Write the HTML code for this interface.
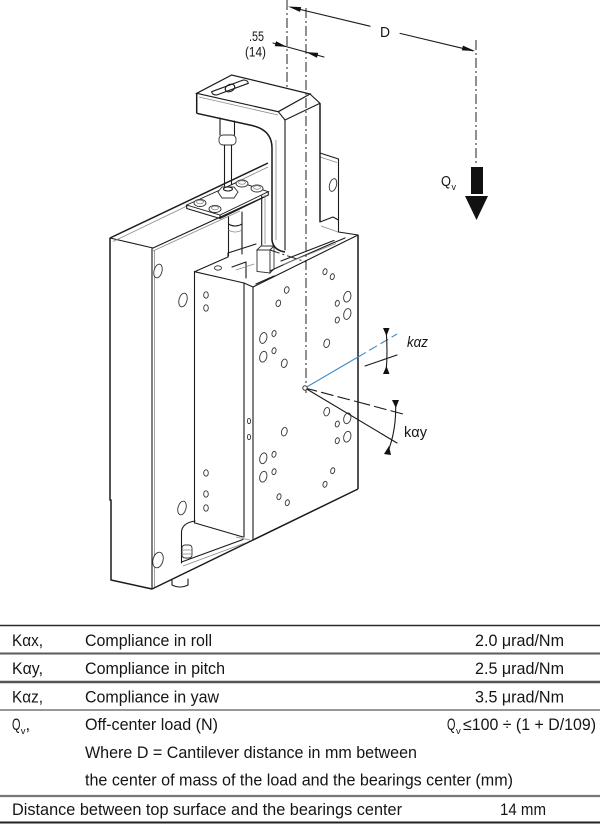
<!DOCTYPE html>
<html>
<head>
<meta charset="utf-8">
<style>
  html,body{margin:0;padding:0;background:#fff;}
  svg{display:block;}
  .l{stroke:#1a1a1a;stroke-width:1.1;fill:none;stroke-linejoin:round;stroke-linecap:round;}
  .t{stroke:#1a1a1a;stroke-width:1.5;fill:none;stroke-linejoin:round;}
  .g{stroke:#8a8a8a;stroke-width:0.8;fill:none;}
  .dd{stroke:#222;stroke-width:1;fill:none;stroke-dasharray:10 3 2 3;}
  .h{stroke:#333;stroke-width:0.9;fill:#fff;}
  .tx{font-family:"Liberation Sans",Arial,sans-serif;fill:#151515;}
</style>
</head>
<body>
<svg width="600" height="824" viewBox="0 0 600 824" xmlns="http://www.w3.org/2000/svg">

<!-- ===== dimension / centre lines ===== -->
<line class="dd" x1="287" y1="0" x2="287" y2="100"/>
<line class="dd" x1="476" y1="40" x2="476" y2="165"/>

<!-- D dimension -->
<line class="l" x1="292" y1="7.5" x2="370" y2="26.2"/>
<line class="l" x1="400" y1="33.4" x2="473" y2="50.8"/>
<polygon points="288,6.5 300,11.9 301.2,7.1" fill="#111"/>
<polygon points="475,51 461.8,50.4 463,45.6" fill="#111"/>
<text class="tx" x="380" y="37" font-size="15" textLength="10" lengthAdjust="spacingAndGlyphs">D</text>

<!-- .55 dimension -->
<line class="l" x1="273" y1="43" x2="324" y2="57"/>
<polygon points="287,46.9 274.7,46.1 276.1,41.3" fill="#111"/>
<polygon points="306,52.1 316.9,57.7 318.3,52.9" fill="#111"/>
<text class="tx" x="249" y="41" font-size="13.5" textLength="15" lengthAdjust="spacingAndGlyphs">.55</text>
<text class="tx" x="245" y="56.5" font-size="13.5" textLength="21" lengthAdjust="spacingAndGlyphs">(14)</text>

<!-- Qv load arrow -->
<rect x="471" y="167" width="12" height="27" fill="#111"/>
<polygon points="465,196 488,196 476.5,220" fill="#111"/>
<text class="tx" x="441" y="186" font-size="15" textLength="10" lengthAdjust="spacingAndGlyphs">Q</text>
<text class="tx" x="451.5" y="190" font-size="9">v</text>

<!-- ===== housing ===== -->
<polyline class="t" points="110,238 110,500 111,500 111,580 152,589"/>
<line class="l" x1="110" y1="238" x2="153" y2="248"/>
<line class="l" x1="152" y1="248" x2="152" y2="589"/>
<line class="g" x1="154.5" y1="250" x2="154.5" y2="587"/>
<line class="t" x1="110" y1="238" x2="268" y2="163"/>
<line class="g" x1="113" y1="241.5" x2="268" y2="167"/>
<line class="l" x1="153" y1="248" x2="265" y2="196.5"/>
<line class="g" x1="153" y1="251" x2="240" y2="211"/>
<polyline class="t" points="152,589 253,540 358,489"/>
<ellipse class="h" cx="158" cy="271" rx="4" ry="7" transform="rotate(15 158 271)"/>
<ellipse class="h" cx="183" cy="300" rx="4" ry="7" transform="rotate(15 183 300)"/>
<ellipse class="h" cx="182" cy="508" rx="4" ry="7" transform="rotate(15 182 508)"/>
<ellipse class="h" cx="158" cy="560" rx="5" ry="8" transform="rotate(15 158 560)"/>

<!-- bottom recess -->
<path class="l" d="M181.5,563 L181.5,532 Q182,523 195,521"/>
<line class="l" x1="181.5" y1="562" x2="243" y2="539.5"/>
<line class="g" x1="183" y1="566" x2="245" y2="543"/>
<line class="l" x1="195" y1="523" x2="243" y2="537"/>
<rect class="h" x="182" y="545" width="10" height="13" rx="3"/>
<line class="g" x1="182" y1="550" x2="192" y2="550"/>
<line class="g" x1="182" y1="554" x2="192" y2="554"/>
<path class="l" d="M172,580 L172,585 Q180,589 188,585 L188,579"/>
<line class="g" x1="236" y1="537" x2="250" y2="540"/>

<!-- mid-block -->
<line class="l" x1="194.5" y1="271.7" x2="194.5" y2="523"/>
<line class="l" x1="194.5" y1="271.7" x2="244" y2="283"/>
<line class="l" x1="244" y1="283" x2="244" y2="537"/>
<line class="l" x1="194.5" y1="271.7" x2="228" y2="257"/>
<polyline class="l" points="228,257 228,253 256,244"/>
<polyline class="l" points="232,267 246,262 246,278"/>
<line class="g" x1="236" y1="270" x2="254" y2="264"/>
<ellipse class="h" cx="218" cy="268" rx="3.5" ry="2.2"/>
<ellipse class="h" cx="206" cy="295" rx="2.3" ry="3.2"/>
<ellipse class="h" cx="206" cy="308" rx="2.3" ry="3.2"/>
<ellipse class="h" cx="206" cy="473" rx="2.3" ry="3.2"/>
<ellipse class="h" cx="206" cy="494" rx="2.3" ry="3.2"/>
<ellipse class="h" cx="206" cy="508" rx="2.3" ry="3.2"/>

<!-- narrow strip -->
<line class="l" x1="244" y1="283" x2="253" y2="287"/>
<line class="l" x1="253" y1="287" x2="253" y2="540"/>
<ellipse class="h" cx="249" cy="421" rx="1.6" ry="2.6"/>
<ellipse class="h" cx="249" cy="437" rx="1.6" ry="2.6"/>

<!-- carriage front face -->
<line class="l" x1="253" y1="287" x2="358" y2="235"/>
<line class="t" x1="358" y1="235" x2="358" y2="489"/>
<g class="h">
<ellipse cx="347.3" cy="296.7" rx="3.5" ry="5.5" transform="rotate(15 347.3 296.7)"/>
<ellipse cx="347.3" cy="314" rx="3.5" ry="5.5" transform="rotate(15 347.3 314)"/>
<ellipse cx="263.3" cy="338" rx="3.5" ry="5.5" transform="rotate(15 263.3 338)"/>
<ellipse cx="263.3" cy="356.7" rx="3.5" ry="5.5" transform="rotate(15 263.3 356.7)"/>
<ellipse cx="347.3" cy="418.3" rx="3.5" ry="5.5" transform="rotate(15 347.3 418.3)"/>
<ellipse cx="347.3" cy="436.7" rx="3.5" ry="5.5" transform="rotate(15 347.3 436.7)"/>
<ellipse cx="263.3" cy="458.3" rx="3.5" ry="5.5" transform="rotate(15 263.3 458.3)"/>
<ellipse cx="263.3" cy="476.7" rx="3.5" ry="5.5" transform="rotate(15 263.3 476.7)"/>
<ellipse cx="284.3" cy="363.3" rx="2.8" ry="4.3" transform="rotate(15 284.3 363.3)"/>
<ellipse cx="326.7" cy="343.3" rx="2.8" ry="4.3" transform="rotate(15 326.7 343.3)"/>
<ellipse cx="326.7" cy="411.7" rx="2.8" ry="4.3" transform="rotate(15 326.7 411.7)"/>
<ellipse cx="284.3" cy="431.7" rx="2.8" ry="4.3" transform="rotate(15 284.3 431.7)"/>
<ellipse cx="286.7" cy="290" rx="2.3" ry="3.3" transform="rotate(15 286.7 290)"/>
<ellipse cx="278.3" cy="303.3" rx="2.3" ry="3.3" transform="rotate(15 278.3 303.3)"/>
<ellipse cx="325" cy="271.7" rx="2" ry="3" transform="rotate(15 325 271.7)"/>
<ellipse cx="332.3" cy="276.7" rx="2" ry="3" transform="rotate(15 332.3 276.7)"/>
<ellipse cx="337.3" cy="303.3" rx="2" ry="3" transform="rotate(15 337.3 303.3)"/>
<ellipse cx="337.3" cy="320" rx="2" ry="3" transform="rotate(15 337.3 320)"/>
<ellipse cx="274" cy="333.5" rx="2" ry="3" transform="rotate(15 274 333.5)"/>
<ellipse cx="274" cy="350.7" rx="2" ry="3" transform="rotate(15 274 350.7)"/>
<ellipse cx="337.3" cy="424" rx="2" ry="3" transform="rotate(15 337.3 424)"/>
<ellipse cx="337.3" cy="440.7" rx="2" ry="3" transform="rotate(15 337.3 440.7)"/>
<ellipse cx="274" cy="454.3" rx="2" ry="3" transform="rotate(15 274 454.3)"/>
<ellipse cx="274" cy="471.7" rx="2" ry="3" transform="rotate(15 274 471.7)"/>
<ellipse cx="332.7" cy="470.7" rx="2" ry="3" transform="rotate(15 332.7 470.7)"/>
<ellipse cx="325" cy="484.3" rx="2" ry="3" transform="rotate(15 325 484.3)"/>
<ellipse cx="279" cy="496.7" rx="2" ry="3" transform="rotate(15 279 496.7)"/>
<ellipse cx="287.3" cy="502.7" rx="2" ry="3" transform="rotate(15 287.3 502.7)"/>
</g>

<!-- right back block -->
<line class="l" x1="320" y1="153" x2="338.5" y2="159"/>
<line class="g" x1="320" y1="157" x2="337" y2="162.5"/>
<line class="l" x1="338.5" y1="159" x2="338.5" y2="232"/>
<line class="l" x1="338.5" y1="232" x2="358" y2="235"/>
<ellipse class="h" cx="333" cy="185" rx="3.5" ry="6.5" transform="rotate(15 333 185)"/>
<polyline class="l" points="320,222 333,217 338.5,220"/>
<line class="g" x1="321" y1="226" x2="338" y2="232"/>

<!-- bracket base on carriage -->
<polygon class="h" points="257,250 270,250 270,273 257,271.5"/>
<polygon class="h" points="257,250 261,246 274,246 270,250"/>
<polygon class="h" points="270,250 274,246 274,269 270,273"/>
<polyline class="l" points="270,271 286,263.5 333,243 345,238"/>
<line class="l" x1="281" y1="261" x2="334" y2="240.5"/>
<line class="g" x1="283" y1="264.5" x2="336" y2="243.5"/>
<line class="l" x1="274" y1="276" x2="256" y2="284"/>
<line class="dd" x1="270" y1="250" x2="306" y2="262"/>

<!-- ===== bracket (cantilever) ===== -->
<polygon class="h" style="stroke:#1a1a1a;stroke-width:1.2" points="196.7,93.3 231.7,75 310,94 278.3,111.7"/>
<polyline class="l" points="278.3,111.7 285,120 320,103.3 310,94"/>
<line class="g" x1="199" y1="97" x2="278" y2="115"/>
<path class="l" d="M211.7,91.7 L243.3,80 Q248,80 248.3,83.3 L216.7,95 Q212,95 211.7,91.7 Z"/>
<ellipse class="l" cx="230" cy="88" rx="5" ry="3.5" transform="rotate(-25 230 88)"/>
<line class="t" x1="196.7" y1="93.3" x2="196.7" y2="113.3"/>
<path class="t" d="M196.7,113.3 L252,125.5 Q272,130 272,148 L272,240 Q273,250 285,252"/>
<line class="l" x1="285" y1="120" x2="285" y2="250"/>
<line class="t" x1="320" y1="103.3" x2="320" y2="222"/>
<line class="g" x1="276" y1="140" x2="276" y2="240"/>

<!-- knob / rod -->
<line class="l" x1="220" y1="118" x2="220" y2="135"/>
<line class="l" x1="234.5" y1="121" x2="234.5" y2="135"/>
<rect class="h" x="219" y="135" width="17" height="10" rx="4"/>
<line class="l" x1="224.5" y1="145" x2="224.5" y2="186"/>
<line class="l" x1="231.5" y1="145" x2="231.5" y2="186"/>

<!-- mounting plate -->
<polygon class="h" style="stroke:#1a1a1a" points="186.7,205 238.3,181.7 268.3,191.7 220,215"/>
<polyline class="l" points="186.7,205 186.7,208.5 220,218.5 268.3,195 268.3,191.7"/>
<line class="l" x1="220" y1="215" x2="220" y2="218.5"/>
<g class="h">
<ellipse cx="200" cy="203" rx="6" ry="3.5"/>
<ellipse cx="215" cy="209" rx="6" ry="3.5"/>
<ellipse cx="242" cy="183.5" rx="6" ry="3.5"/>
<ellipse cx="257" cy="188.5" rx="6" ry="3.5"/>
</g>
<g class="g">
<ellipse cx="200" cy="202" rx="3.5" ry="1.8"/>
<ellipse cx="215" cy="208" rx="3.5" ry="1.8"/>
<ellipse cx="242" cy="182.5" rx="3.5" ry="1.8"/>
<ellipse cx="257" cy="187.5" rx="3.5" ry="1.8"/>
</g>
<polygon class="h" points="218,192 222,187 234,187 238,192 234,198 222,198"/>
<ellipse class="l" cx="228" cy="189" rx="4.5" ry="2"/>

<!-- cylinder under plate -->
<line class="l" x1="228.5" y1="217" x2="228.5" y2="256"/>
<line class="l" x1="242" y1="212" x2="242" y2="254"/>
<path class="l" d="M228.5,224 Q235,228 242,224"/>
<path class="g" d="M228.5,230 Q235,234 242,230"/>
<line class="l" x1="261.7" y1="196" x2="261.7" y2="245"/>
<line class="g" x1="265" y1="195" x2="265" y2="244"/>

<!-- centre line through bearing centre -->
<line class="dd" x1="306" y1="8" x2="306" y2="393"/>

<!-- ===== compliance annotations ===== -->
<line x1="305" y1="388" x2="358" y2="357" stroke="#3a8cc4" stroke-width="1.1"/>
<line x1="358" y1="357" x2="397" y2="334" stroke="#3a8cc4" stroke-width="1.1" stroke-dasharray="9 4"/>
<line class="l" x1="365" y1="366" x2="397" y2="355"/>
<path class="l" d="M386,329 Q388,351 386,373"/>
<polygon points="383,328 389.5,328 386.5,336" fill="#111"/>
<polygon points="383,374 389.5,374 386.5,366" fill="#111"/>
<text class="tx" x="407" y="347" font-size="14.5" font-style="italic" textLength="21" lengthAdjust="spacingAndGlyphs">kαz</text>

<line class="l" x1="305" y1="388" x2="358" y2="402" stroke-dasharray="12 5"/>
<line class="l" x1="358" y1="402" x2="403" y2="414" stroke-dasharray="12 5"/>
<line class="l" x1="305" y1="388" x2="397" y2="443"/>
<path class="l" d="M395.5,401 Q397,430 387,454"/>
<polygon points="392,400 399,400 395.8,408" fill="#111"/>
<polygon points="384,454 391,455 389,446" fill="#111"/>
<text class="tx" x="404" y="437" font-size="14.5" textLength="23" lengthAdjust="spacingAndGlyphs">kαy</text>
<circle cx="305" cy="388" r="2.2" fill="#fff" stroke="#333" stroke-width="1"/>

<!-- ===== table ===== -->
<line x1="0" y1="625.5" x2="600" y2="625.5" stroke="#2a2a2a" stroke-width="1.6"/>
<line x1="0" y1="653.5" x2="600" y2="653.5" stroke="#5a5a5a" stroke-width="2"/>
<line x1="0" y1="682" x2="600" y2="682" stroke="#555" stroke-width="2.5"/>
<line x1="0" y1="710" x2="600" y2="710" stroke="#777" stroke-width="1.6"/>
<line x1="0" y1="796" x2="600" y2="796" stroke="#777" stroke-width="2.2"/>
<line x1="0" y1="822.5" x2="600" y2="822.5" stroke="#222" stroke-width="2"/>

<g class="tx" font-size="16.5">
<text x="12" y="646" textLength="31" lengthAdjust="spacingAndGlyphs">Kαx,</text>
<text x="85" y="646" textLength="127" lengthAdjust="spacingAndGlyphs">Compliance in roll</text>
<text x="475" y="646" textLength="89" lengthAdjust="spacingAndGlyphs">2.0 μrad/Nm</text>

<text x="12" y="674" textLength="31" lengthAdjust="spacingAndGlyphs">Kαy,</text>
<text x="85" y="674" textLength="140" lengthAdjust="spacingAndGlyphs">Compliance in pitch</text>
<text x="475" y="674" textLength="89" lengthAdjust="spacingAndGlyphs">2.5 μrad/Nm</text>

<text x="12" y="702.5" textLength="31" lengthAdjust="spacingAndGlyphs">Kαz,</text>
<text x="85" y="702.5" textLength="134" lengthAdjust="spacingAndGlyphs">Compliance in yaw</text>
<text x="475" y="702.5" textLength="89" lengthAdjust="spacingAndGlyphs">3.5 μrad/Nm</text>

<text x="12" y="730" textLength="8.5" lengthAdjust="spacingAndGlyphs">Q</text>
<text x="20.8" y="734" font-size="9.5">v</text>
<text x="25.5" y="730">,</text>
<text x="85" y="730" textLength="133" lengthAdjust="spacingAndGlyphs">Off-center load (N)</text>
<text x="447" y="730" textLength="8.5" lengthAdjust="spacingAndGlyphs">Q</text>
<text x="456" y="734" font-size="9.5">v</text>
<text x="463" y="730" textLength="133" lengthAdjust="spacingAndGlyphs">≤100 ÷ (1 + D/109)</text>

<text x="85" y="758" textLength="332" lengthAdjust="spacingAndGlyphs">Where D = Cantilever distance in mm between</text>
<text x="85" y="785.5" textLength="428" lengthAdjust="spacingAndGlyphs">the center of mass of the load and the bearings center (mm)</text>

<text x="12" y="815" textLength="390" lengthAdjust="spacingAndGlyphs">Distance between top surface and the bearings center</text>
<text x="500" y="815" textLength="46" lengthAdjust="spacingAndGlyphs">14 mm</text>
</g>
</svg>
</body>
</html>
